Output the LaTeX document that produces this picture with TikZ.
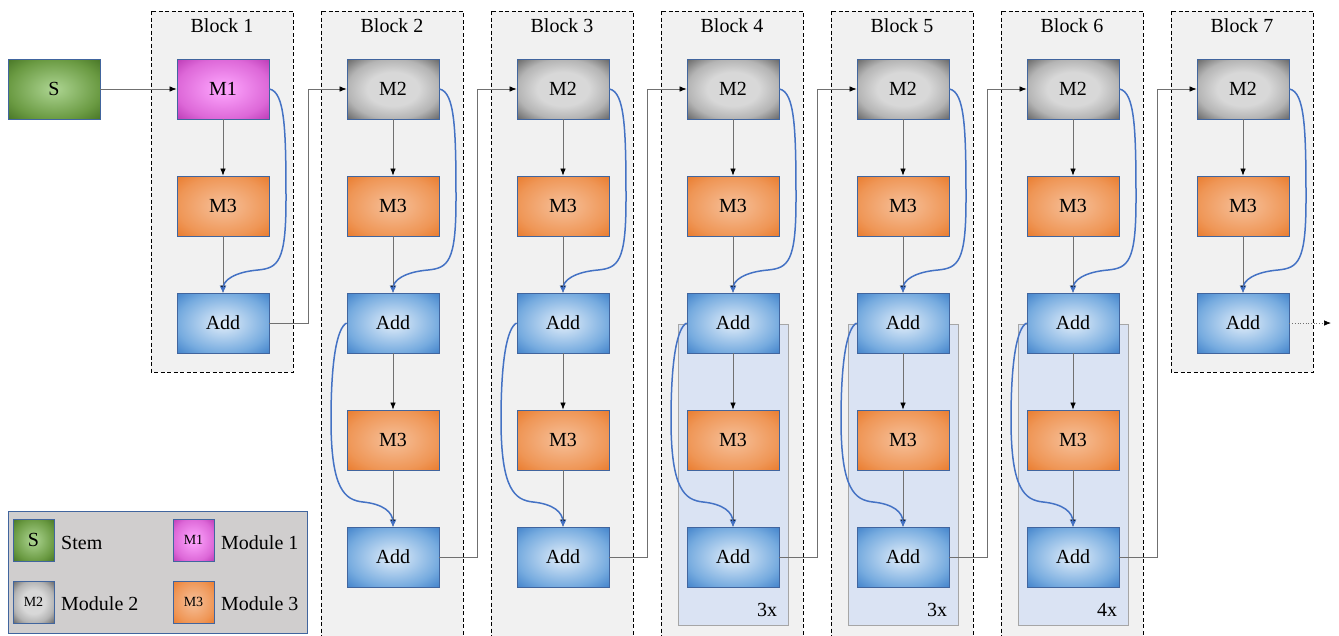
\documentclass[tikz,border=0pt]{standalone}
\usepackage{fontspec}
\setmainfont{Liberation Serif}
\usetikzlibrary{arrows.meta,calc}

\definecolor{boxedge}{HTML}{41659E}
\definecolor{stemIn}{HTML}{ADD592}
\definecolor{stemMid}{HTML}{6A9A42}
\definecolor{stemOut}{HTML}{4A7828}
\definecolor{modaIn}{HTML}{FFA8FF}
\definecolor{modaMid}{HTML}{DD68D8}
\definecolor{modaOut}{HTML}{BE3EB8}
\definecolor{modbIn}{HTML}{D8D8D8}
\definecolor{modbMid}{HTML}{B4B4B4}
\definecolor{modbOut}{HTML}{6A6A6A}
\definecolor{modcIn}{HTML}{F6C09A}
\definecolor{modcMid}{HTML}{EF9656}
\definecolor{modcOut}{HTML}{EA7D30}
\definecolor{addIn}{HTML}{E2EEFA}
\definecolor{addMid}{HTML}{76ABDF}
\definecolor{addOut}{HTML}{4585CC}
\definecolor{blockfill}{HTML}{F1F1F1}
\definecolor{repfill}{HTML}{DAE3F3}
\definecolor{repedge}{HTML}{A6A6A6}
\definecolor{skipcol}{HTML}{4472C4}
\definecolor{flowcol}{HTML}{707070}
\definecolor{legfill}{HTML}{D0CECE}

% radial fills: light centre, darker rim, darkest corners
\pgfdeclareradialshading{stemshade}{\pgfpoint{0bp}{0bp}}{color(0bp)=(stemIn); color(25bp)=(stemMid); color(35bp)=(stemOut); color(50bp)=(stemOut)}
\pgfdeclareradialshading{modashade}{\pgfpoint{0bp}{0bp}}{color(0bp)=(modaIn); color(25bp)=(modaMid); color(35bp)=(modaOut); color(50bp)=(modaOut)}
\pgfdeclareradialshading{modbshade}{\pgfpoint{0bp}{0bp}}{color(0bp)=(modbIn); color(14bp)=(modbIn); color(25bp)=(modbMid); color(35bp)=(modbOut); color(50bp)=(modbOut)}
\pgfdeclareradialshading{modcshade}{\pgfpoint{0bp}{0bp}}{color(0bp)=(modcIn); color(25bp)=(modcMid); color(35bp)=(modcOut); color(50bp)=(modcOut)}
\pgfdeclareradialshading{addshade}{\pgfpoint{0bp}{0bp}}{color(0bp)=(addIn); color(25bp)=(addMid); color(35bp)=(addOut); color(50bp)=(addOut)}

\tikzset{
  txt/.style={font=\fontsize{20}{24}\selectfont},
  mod/.style={draw=boxedge, line width=0.8pt, minimum width=92pt, minimum height=60pt, inner sep=0pt, txt},
  stemmod/.style={mod, shading=stemshade},
  modA/.style={mod, shading=modashade},
  modB/.style={mod, shading=modbshade},
  modC/.style={mod, shading=modcshade},
  addmod/.style={mod, shading=addshade},
  legsq/.style={minimum width=41pt, minimum height=42pt},
  blockbox/.style={draw=black, fill=blockfill, line width=0.8pt, dash pattern=on 4pt off 2.5pt},
  repbox/.style={draw=repedge, fill=repfill, line width=0.8pt},
  flow/.style={draw=flowcol, line width=0.7pt, -{Latex[length=7pt,width=5.5pt,black]}},
  skip/.style={draw=skipcol, line width=1.5pt, -{Stealth[length=7pt,width=6.5pt]}},
}

\begin{document}
\begin{tikzpicture}[x=1pt,y=-1pt]
\useasboundingbox (0,0) rectangle (1339,635);
\clip (0,0) rectangle (1339,635);

% dashed block frames and titles
\foreach \i/\bx/\by in {1/151/372,2/321/645,3/491/645,4/661/645,5/831/645,6/1001/645,7/1171/372}{
  \path[blockbox] (\bx,11) rectangle (\bx+142,\by);
  \node[txt] (title\i) at (\bx+71,26) {Block \i};
}

% repeated sub-blocks
\foreach \i/\n in {4/3,5/3,6/4}{
  \pgfmathsetmacro{\cx}{223+170*(\i-1)}
  \path[repbox] (\cx-55,324) rectangle (\cx+55,625);
  \node[txt] (rep\i) at (\cx+34,610) {\n x};
}

% stem
\node[stemmod] (s) at (54,89) {S};

% upper part of every block
\foreach \i in {1,...,7}{
  \pgfmathsetmacro{\cx}{223+170*(\i-1)}
  \ifnum\i=1
    \node[modA] (t\i) at (\cx,89) {M1};
  \else
    \node[modB] (t\i) at (\cx,89) {M2};
  \fi
  \node[modC] (c\i) at (\cx,206) {M3};
  \node[addmod] (a\i) at (\cx,323) {Add};
  \draw[flow] (t\i) -- (c\i);
  \draw[flow] (c\i) -- (a\i);
  \draw[skip] (t\i.east) .. controls (\cx+62,92) and (\cx+63,130) .. (\cx+63,200)
      .. controls (\cx+63,262) and (\cx+55,268) .. (\cx+35,270)
      .. controls (\cx+12,272) and (\cx,280) .. (a\i.north);
}

% lower part of blocks 2 to 6
\foreach \i in {2,...,6}{
  \pgfmathsetmacro{\cx}{223+170*(\i-1)}
  \node[modC] (d\i) at (\cx,440) {M3};
  \node[addmod] (e\i) at (\cx,557) {Add};
  \draw[flow] (a\i) -- (d\i);
  \draw[flow] (d\i) -- (e\i);
  \draw[skip] (a\i.west) .. controls (\cx-56,328) and (\cx-62,360) .. (\cx-62,420)
      .. controls (\cx-62,490) and (\cx-48,500) .. (\cx-30,502)
      .. controls (\cx-10,504) and (\cx,512) .. (e\i.north);
}

% connections between blocks
\draw[flow] (s) -- (t1);
\draw[flow] (a1.east) -- ++(39,0) |- (t2.west);
\foreach \i/\j in {2/3,3/4,4/5,5/6,6/7}{
  \draw[flow] (e\i.east) -- ++(38,0) |- (t\j.west);
}
\coordinate (out) at (1331,323);
\draw[flow, dotted] (a7.east) -- (out);

% legend
\path[draw=boxedge, fill=legfill, line width=0.8pt] (8,511) rectangle (307,633);
\node[stemmod, legsq] (ls) at (33.5,540) {S};
\node[modA, legsq, font=\fontsize{14}{16}\selectfont] (l1) at (193.5,540) {M1};
\node[modB, legsq, font=\fontsize{14}{16}\selectfont] (l2) at (33.5,602) {M2};
\node[modC, legsq, font=\fontsize{14}{16}\selectfont] (l3) at (193.5,602) {M3};
\node[txt, anchor=west, inner sep=0pt] (lts) at (61,543) {Stem};
\node[txt, anchor=west, inner sep=0pt] (lt1) at (221,543) {Module 1};
\node[txt, anchor=west, inner sep=0pt] (lt2) at (61,604) {Module 2};
\node[txt, anchor=west, inner sep=0pt] (lt3) at (221,604) {Module 3};
\end{tikzpicture}
\end{document}
